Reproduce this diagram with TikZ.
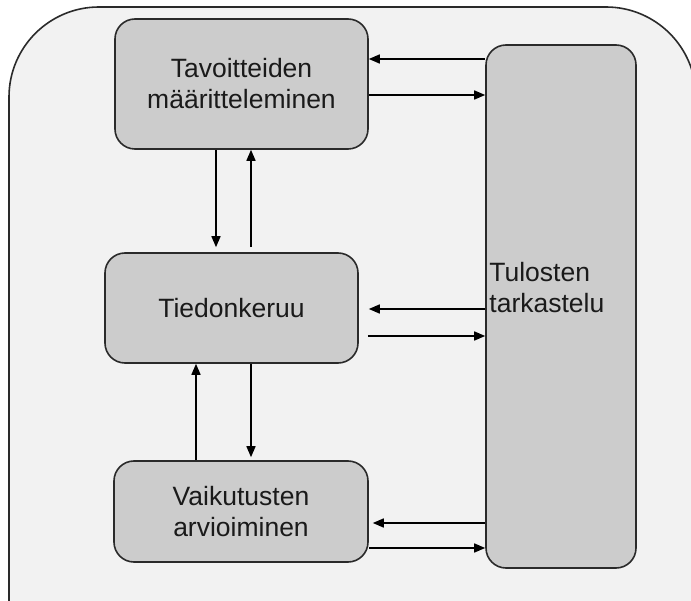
\documentclass[tikz,border=0pt]{standalone}
\usepackage{fontspec}
\setmainfont{Liberation Sans}
\usetikzlibrary{arrows.meta}
\definecolor{bgfill}{HTML}{F2F2F2}
\definecolor{boxfill}{HTML}{CCCCCC}
\definecolor{edge}{HTML}{2A2A2A}
\definecolor{txt}{HTML}{1A1A1A}
\tikzset{
  lbl/.style={text=txt, font=\fontsize{26.5pt}{31pt}\selectfont},
  box/.style={draw=edge, fill=boxfill, line width=1.6pt, rounded corners=20pt,
    inner sep=0pt, align=center, lbl},
  arr/.style={draw=black, line width=1.6pt,
    -{Triangle[length=11pt,width=9pt]}},
}
\begin{document}
\begin{tikzpicture}[x=1pt,y=-1pt]
\useasboundingbox (0,0) rectangle (691,601);
\begin{scope}
\clip (0,0) rectangle (691,601);
\draw[draw=edge, fill=bgfill, line width=1.6pt, rounded corners=90pt] (9,7) rectangle (696,720);
\end{scope}
\node[box, minimum width=253pt, minimum height=130pt] (A) at (241.5,84) {Tavoitteiden\\määritteleminen};
\node[box, minimum width=253pt, minimum height=110pt] (B) at (231.5,308) {Tiedonkeruu};
\node[box, minimum width=254pt, minimum height=101pt] (C) at (241,511.5) {Vaikutusten\\arvioiminen};
\node[box, minimum width=150pt, minimum height=523pt] (R) at (561,306.5) {};
\node[anchor=base west, inner sep=0pt, align=left, lbl] (Rt) at ([xshift=4pt]R.west |- 0,313) {Tulosten\\tarkastelu};
% horizontal
\draw[arr] (R.west |- 0,59) -- (A.east |- 0,59);
\draw[arr] (A.east |- 0,95) -- (R.west |- 0,95);
\draw[arr] (R.west |- 0,309) -- ([xshift=10pt]B.east |- 0,309);
\draw[arr] ([xshift=9pt]B.east |- 0,336) -- (R.west |- 0,336);
\draw[arr] (R.west |- 0,523) -- ([xshift=4pt]C.east |- 0,523);
\draw[arr] (C.east |- 0,548) -- (R.west |- 0,548);
% vertical
\draw[arr] (A.south -| 216,0) -- ([yshift=5pt]B.north -| 216,0);
\draw[arr] ([yshift=5pt]B.north -| 251,0) -- (A.south -| 251,0);
\draw[arr] (C.north -| 196,0) -- (B.south -| 196,0);
\draw[arr] (B.south -| 251,0) -- ([yshift=3pt]C.north -| 251,0);
\end{tikzpicture}
\end{document}
